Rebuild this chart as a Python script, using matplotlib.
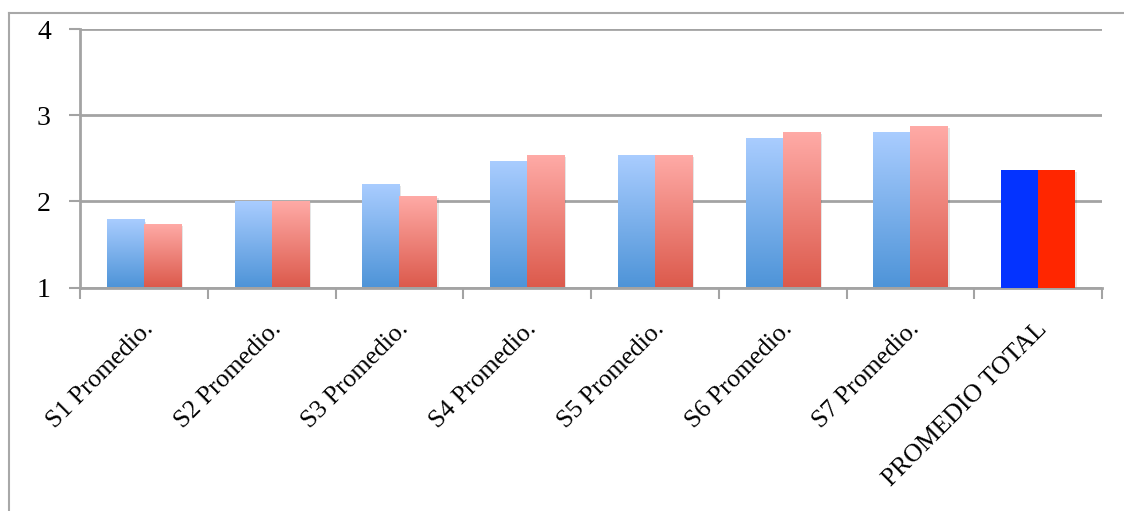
import numpy as np
import matplotlib
matplotlib.use("Agg")
import matplotlib.pyplot as plt
from matplotlib.transforms import ScaledTranslation
from matplotlib.lines import Line2D
import matplotlib.patheffects as pe

categories = ["S1 Promedio.", "S2 Promedio.", "S3 Promedio.", "S4 Promedio.",
              "S5 Promedio.", "S6 Promedio.", "S7 Promedio.", "PROMEDIO TOTAL"]
serie_azul = [1.79, 2.00, 2.20, 2.47, 2.54, 2.74, 2.81, 2.36]
serie_roja = [1.74, 2.00, 2.06, 2.54, 2.54, 2.81, 2.88, 2.36]
y_ticks = [1, 2, 3, 4]

plt.rcParams['font.family'] = ['Liberation Serif', 'DejaVu Serif']

fig = plt.figure(figsize=(11.24, 5.11), dpi=100)
W, H = 1124, 511
ax = fig.add_axes([80 / W, 1 - 287.5 / H, (1102 - 80) / W, (287.5 - 29) / H])

grid_col = "#a3a3a3"
n = len(categories)
x = np.arange(n)
bw = 0.29
base = 1.0

def gradient_bars(xpos, vals, top, bottom, last_solid=None):
    bars = ax.bar(xpos, np.array(vals) - base, bottom=base, width=bw, align='edge',
                  color='none', edgecolor='none', zorder=3)
    for i, b in enumerate(bars):
        x0, y0 = b.get_x(), b.get_y()
        w, h = b.get_width(), b.get_height()
        sh = plt.Rectangle((x0, y0), w, h, facecolor='none', edgecolor='none', zorder=2,
                           path_effects=[pe.SimplePatchShadow(offset=(1.5, -1.5), shadow_rgbFace='#000000', alpha=0.10)])
        ax.add_patch(sh)
        if i == n - 1 and last_solid is not None:
            b.set_facecolor(last_solid)
            continue
        grad = np.linspace(1, 0, 256).reshape(-1, 1)
        ct = np.array(matplotlib.colors.to_rgb(top))
        cb = np.array(matplotlib.colors.to_rgb(bottom))
        img = grad[..., None] * ct + (1 - grad[..., None]) * cb
        im = ax.imshow(img, extent=(x0, x0 + w, y0, y0 + h), aspect='auto',
                       origin='upper', zorder=3, interpolation='bilinear')
        im.set_clip_path(b)
    return bars

gradient_bars(x - bw, serie_azul, "#aacdff", "#4e94d8", last_solid="#0433ff")
gradient_bars(x, serie_roja, "#ffaba7", "#dc5a4c", last_solid="#ff2600")

ax.set_xlim(-0.5, n - 0.5)
ax.set_ylim(1, 4)
ax.set_yticks(y_ticks)
ax.set_yticklabels([str(v) for v in y_ticks], fontsize=20)
ax.yaxis.grid(True, color=grid_col, linewidth=2.0, zorder=0)
ax.set_axisbelow(True)

ax.set_xticks(np.arange(n + 1) - 0.5)
ax.set_xticklabels([])
ax.tick_params(axis='x', length=8, width=1.5, color=grid_col, direction='out')
ax.tick_params(axis='y', length=8, width=1.5, color=grid_col, direction='out', pad=13)

for s in ['top', 'right']:
    ax.spines[s].set_visible(False)
for s in ['left', 'bottom']:
    ax.spines[s].set_color(grid_col)
    ax.spines[s].set_linewidth(2.0)

trans = ax.get_xaxis_transform()
for i, lab in enumerate(categories):
    t = trans + ScaledTranslation(6 / 100, -38 / 100, fig.dpi_scale_trans)
    ax.text(i, 0, lab, transform=t, rotation=45, rotation_mode='anchor',
            ha='right', va='center', fontsize=18.5, color='black')

# outer frame
fig.add_artist(Line2D([8.5 / W, 8.5 / W], [0, 1 - 13.5 / H], transform=fig.transFigure,
                      color='#a8a8a8', linewidth=1.5))
fig.add_artist(Line2D([8.5 / W, 1], [1 - 13.5 / H, 1 - 13.5 / H], transform=fig.transFigure,
                      color='#a8a8a8', linewidth=1.5))

fig.savefig("out.png", dpi=100)
